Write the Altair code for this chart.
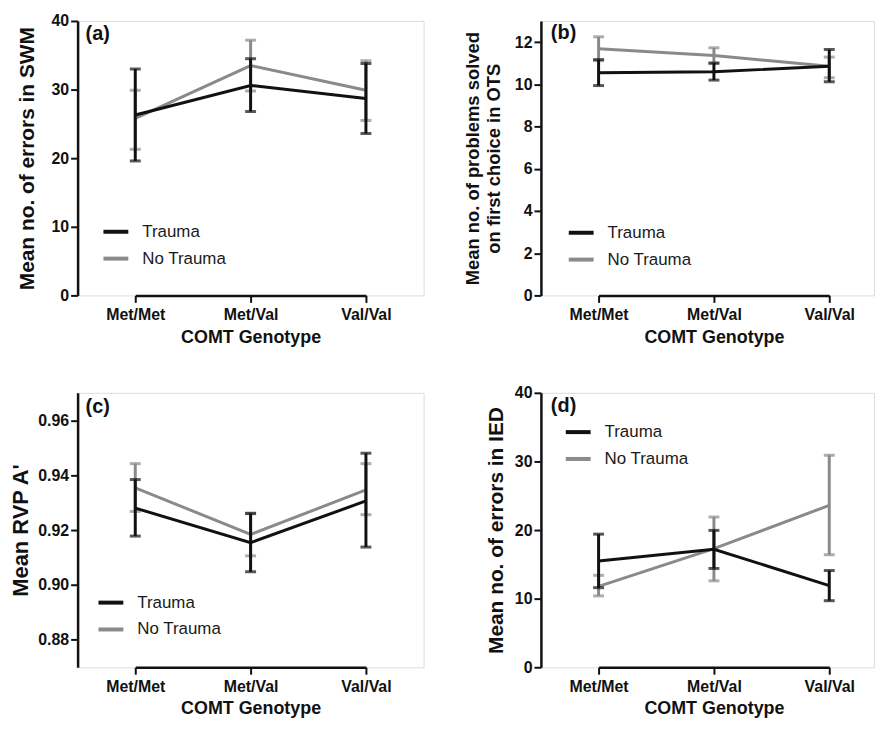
import altair as alt
import pandas as pd

FONT = "Liberation Sans"

genotypes = ["Met/Met", "Met/Val", "Val/Val"]
groups = ["Trauma", "No Trauma"]
group_colors = ["#111111", "#8a8a8a"]

# (a) SWM errors
swm_trauma_mean = [26.3, 30.6, 28.7]
swm_trauma_lo = [19.6, 26.8, 23.6]
swm_trauma_hi = [33.0, 34.5, 33.8]
swm_notrauma_mean = [25.8, 33.5, 29.9]
swm_notrauma_lo = [21.3, 29.8, 25.5]
swm_notrauma_hi = [29.9, 37.2, 34.2]

# (b) OTS problems solved on first choice
ots_trauma_mean = [10.55, 10.59, 10.86]
ots_trauma_lo = [9.94, 10.20, 10.12]
ots_trauma_hi = [11.17, 11.01, 11.65]
ots_notrauma_mean = [11.68, 11.36, 10.86]
ots_notrauma_lo = [11.12, 10.98, 10.31]
ots_notrauma_hi = [12.25, 11.73, 11.29]

# (c) RVP A'
rvp_trauma_mean = [0.9280, 0.9154, 0.9306]
rvp_trauma_lo = [0.9178, 0.9048, 0.9138]
rvp_trauma_hi = [0.9384, 0.9260, 0.9480]
rvp_notrauma_mean = [0.9354, 0.9184, 0.9346]
rvp_notrauma_lo = [0.9268, 0.9106, 0.9256]
rvp_notrauma_hi = [0.9442, 0.9262, 0.9442]

# (d) IED errors
ied_trauma_mean = [15.5, 17.2, 11.9]
ied_trauma_lo = [11.6, 14.4, 9.7]
ied_trauma_hi = [19.4, 19.95, 14.1]
ied_notrauma_mean = [11.8, 17.3, 23.6]
ied_notrauma_lo = [10.4, 12.6, 16.4]
ied_notrauma_hi = [13.4, 21.9, 30.9]

H = 276


def make_df(tm, tlo, thi, nm, nlo, nhi):
    rows = []
    for g, m, lo, hi in [("No Trauma", nm, nlo, nhi), ("Trauma", tm, tlo, thi)]:
        for i, gen in enumerate(genotypes):
            rows.append({"group": g, "genotype": gen, "mean": m[i], "lo": lo[i], "hi": hi[i]})
    return pd.DataFrame(rows)


def panel(df, label, ytitle, ytitle_size, ytitle_pad, ydomain, yvalues, yformat, width,
          lx, ly, labx, laby):
    xenc = alt.X(
        "genotype:N",
        sort=genotypes,
        scale=alt.Scale(type="point", domain=genotypes, range=[58, 290], padding=0),
        axis=alt.Axis(
            title="COMT Genotype", labelAngle=0, labelFont=FONT, labelFontSize=16,
            labelFontWeight="bold", labelColor="#111", titleFont=FONT,
            titleFontSize=18, titleFontWeight="bold", titleColor="#111",
            domainColor="#111", domainWidth=2.5, tickColor="#111", tickWidth=2,
            tickSize=7, labelPadding=4, titlePadding=6, grid=False,
        ),
    )
    yscale = alt.Scale(domain=ydomain, nice=False, zero=False)
    yaxis = alt.Axis(
        title=ytitle, values=yvalues, format=yformat, labelFont=FONT,
        labelFontSize=16, labelFontWeight="bold", labelColor="#111",
        titleFont=FONT, titleFontSize=ytitle_size, titleFontWeight="bold",
        titleColor="#111", domainColor="#111", domainWidth=2.5, tickColor="#111",
        tickWidth=2, tickSize=7, labelPadding=2, titlePadding=ytitle_pad, grid=False,
        titleLineHeight=21,
    )
    color = alt.Color(
        "group:N",
        scale=alt.Scale(domain=groups, range=group_colors),
        legend=alt.Legend(
            orient="none", legendX=lx, legendY=ly, title=None,
            symbolType="stroke", symbolStrokeWidth=4, symbolSize=625,
            symbolOpacity=1,
            labelFont=FONT, labelFontSize=17, labelColor="#1a1a1a",
            labelOffset=12, rowPadding=4, padding=0,
        ),
    )
    layers = []
    for g in ["No Trauma", "Trauma"]:
        base = alt.Chart(df).transform_filter(alt.datum.group == g)
        layers.append(base.mark_line(strokeWidth=3).encode(
            x=xenc, y=alt.Y("mean:Q", scale=yscale, axis=yaxis), color=color))
        layers.append(base.mark_rule(strokeWidth=3).encode(
            x=xenc, y=alt.Y("lo:Q", scale=yscale, axis=yaxis), y2="hi:Q", color=color))
        layers.append(base.mark_tick(size=11, thickness=3).encode(
            x=xenc, y=alt.Y("lo:Q", scale=yscale, axis=yaxis), color=color))
        layers.append(base.mark_tick(size=11, thickness=3).encode(
            x=xenc, y=alt.Y("hi:Q", scale=yscale, axis=yaxis), color=color))
    txt = alt.Chart(pd.DataFrame({"t": [label]})).mark_text(
        align="left", baseline="middle", font=FONT, fontSize=20,
        fontWeight="bold", color="#111",
    ).encode(text="t:N", x=alt.value(labx), y=alt.value(laby))
    layers.append(txt)
    return alt.layer(*layers).properties(width=width, height=H)


pa = panel(make_df(swm_trauma_mean, swm_trauma_lo, swm_trauma_hi,
                   swm_notrauma_mean, swm_notrauma_lo, swm_notrauma_hi),
           "(a)", "Mean no. of errors in SWM", 21, 14, [0, 40], [0, 10, 20, 30, 40], "d",
           348, 24, 197.5, 8, 13)
pb = panel(make_df(ots_trauma_mean, ots_trauma_lo, ots_trauma_hi,
                   ots_notrauma_mean, ots_notrauma_lo, ots_notrauma_hi),
           "(b)", ["Mean no. of problems solved", "on first choice in OTS"], 18.5, 11,
           [0, 13], [0, 2, 4, 6, 8, 10, 12], "d",
           335, 26, 198.5, 10, 12)
pc = panel(make_df(rvp_trauma_mean, rvp_trauma_lo, rvp_trauma_hi,
                   rvp_notrauma_mean, rvp_notrauma_lo, rvp_notrauma_hi),
           "(c)", "Mean RVP A'", 22, 5, [0.87, 0.97], [0.88, 0.90, 0.92, 0.94, 0.96], ".2f",
           348, 19, 196.5, 8, 14)
pd_ = panel(make_df(ied_trauma_mean, ied_trauma_lo, ied_trauma_hi,
                    ied_notrauma_mean, ied_notrauma_lo, ied_notrauma_hi),
            "(d)", "Mean no. of errors in IED", 21, 8, [0, 40], [0, 10, 20, 30, 40], "d",
            335, 23, 25, 10, 13)

chart = alt.concat(pa, pb, pc, pd_, columns=2, spacing={"row": 37, "column": 38}).resolve_scale(
    color="independent"
).resolve_legend(color="independent").properties(
    padding={"left": 1, "top": 2, "right": 0, "bottom": 0}
).configure_view(stroke=None).configure(background="white")

chart.save("out.html", embed_options={"renderer": "svg", "actions": False})
